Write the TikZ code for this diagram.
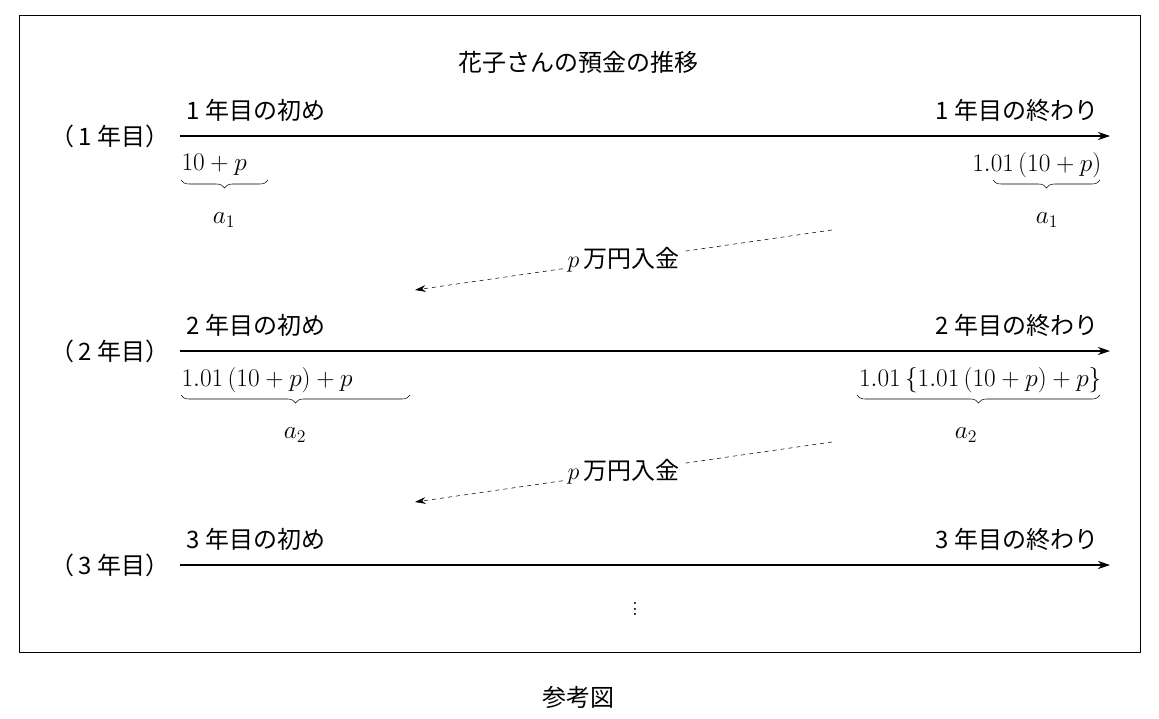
\RequirePackage{fix-cm}
\documentclass[tikz,border=0pt]{standalone}
\usepackage{fontspec}
\newfontfamily\cjk{Noto Sans CJK JP}
\usetikzlibrary{decorations.pathreplacing,arrows.meta}
\begin{document}
\begin{tikzpicture}[x=0.75pt,y=-0.75pt,
  every node/.style={font=\fontsize{18}{20}\selectfont\cjk, inner sep=1pt},
  axis/.style={thick,-{Stealth[length=9pt,width=6pt]}},
  dep/.style={dashed,-{Stealth[length=8pt,width=5pt]}},
  br/.style={decorate,decoration={brace,mirror,amplitude=6pt}},
  m/.style={font=\fontsize{19}{21}\selectfont}]
\useasboundingbox (0,0) rectangle (1159,718);
\draw (19,15) rectangle (1140,652);
\node (title) at (578,62) {花子さんの預金の推移};
\node (cap) at (578,697) {参考図};
% rows
\foreach \r/\y in {1/136,2/351,3/565}{
  \node (y\r) at (110,\y) {（\,\r\ 年目）};
  \coordinate (s\r) at (180,\y);
  \coordinate (e\r) at (1110,\y);
  \draw[axis] (s\r) -- (e\r);
  \node[anchor=west] (b\r) at (185,\y-26) {\r\ 年目の初め};
  \node[anchor=east] (f\r) at (1100,\y-26) {\r\ 年目の終わり};
}
% row 1 values
\node[m,anchor=west] (v1) at (180,165) {$10+p$};
\draw[br] (181,180) -- (268,180);
\node[m] (a1l) at (224,220) {$a_1$};
\node[m,anchor=east] (w1) at (1103,165) {$1.01\,(10+p)$};
\draw[br] (993,180) -- (1100,180);
\node[m] (a1r) at (1047,220) {$a_1$};
% row 2 values
\node[m,anchor=west] (v2) at (180,380) {$1.01\,(10+p)+p$};
\draw[br] (181,395) -- (410,395);
\node[m] (a2l) at (295,435) {$a_2$};
\node[m,anchor=east] (w2) at (1103,380) {$1.01\,\{1.01\,(10+p)+p\}$};
\draw[br] (857,395) -- (1100,395);
\node[m] (a2r) at (966,435) {$a_2$};
% deposits
\coordinate (d1s) at (832,230); \coordinate (d1e) at (415,290);
\draw[dep] (d1s) -- (d1e) node[midway,fill=white,inner sep=3pt] (p1) {$p$\,万円入金};
\coordinate (d2s) at (832,442); \coordinate (d2e) at (415,502);
\draw[dep] (d2s) -- (d2e) node[midway,fill=white,inner sep=3pt] (p2) {$p$\,万円入金};
\node[m] (dots) at (635,605) {$\vdots$};
\end{tikzpicture}
\end{document}
